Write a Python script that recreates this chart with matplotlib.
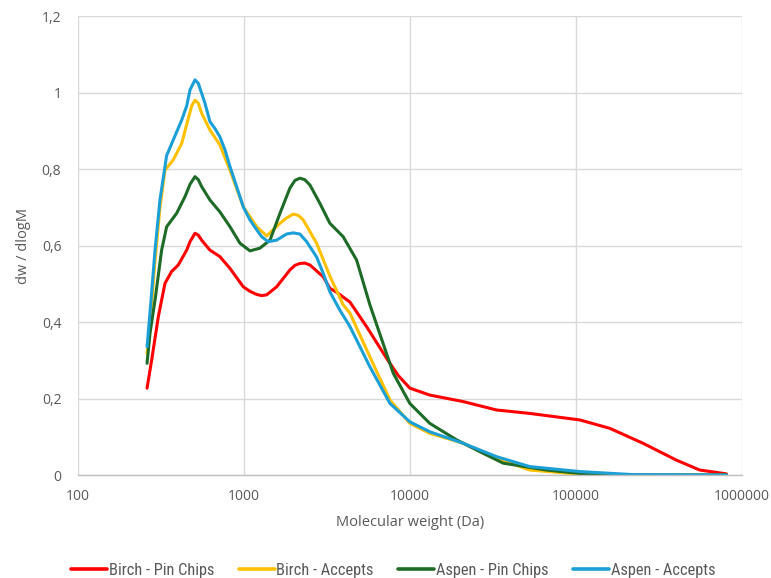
import numpy as np
import matplotlib
matplotlib.use("Agg")
import matplotlib.pyplot as plt
from matplotlib.ticker import FixedLocator, FuncFormatter, NullLocator

# Molecular weight distributions (log10 of M in Da, dw/dlogM)
birch_pin_logm = [2.416, 2.444, 2.484, 2.524, 2.564, 2.604, 2.655, 2.675, 2.705, 2.725,
                  2.745, 2.795, 2.855, 2.916, 2.996, 3.037, 3.077, 3.107, 3.137, 3.197,
                  3.277, 3.307, 3.337, 3.367, 3.398, 3.478, 3.518, 3.558, 3.639, 3.739,
                  3.860, 3.930, 4.000, 4.120, 4.321, 4.522, 4.723, 5.024, 5.205, 5.405,
                  5.606, 5.747, 5.908]
birch_pin_val = [0.227, 0.301, 0.414, 0.501, 0.532, 0.549, 0.588, 0.610, 0.632, 0.627,
                 0.614, 0.588, 0.571, 0.540, 0.492, 0.480, 0.472, 0.469, 0.471, 0.492,
                 0.536, 0.548, 0.553, 0.554, 0.549, 0.518, 0.488, 0.478, 0.452, 0.388,
                 0.305, 0.260, 0.227, 0.209, 0.192, 0.170, 0.161, 0.144, 0.122, 0.083,
                 0.039, 0.013, 0.003]

birch_acc_logm = [2.416, 2.444, 2.464, 2.494, 2.524, 2.574, 2.625, 2.665, 2.685, 2.705,
                  2.725, 2.745, 2.795, 2.855, 2.916, 2.996, 3.077, 3.137, 3.217, 3.257,
                  3.297, 3.327, 3.357, 3.438, 3.518, 3.598, 3.639, 3.759, 3.880, 4.000,
                  4.120, 4.321, 4.522, 4.723, 5.024, 5.343, 5.908]
birch_acc_val = [0.318, 0.450, 0.560, 0.700, 0.797, 0.824, 0.867, 0.933, 0.965, 0.980,
                 0.972, 0.946, 0.902, 0.863, 0.797, 0.701, 0.649, 0.625, 0.658, 0.672,
                 0.682, 0.679, 0.667, 0.606, 0.520, 0.445, 0.423, 0.309, 0.196, 0.135,
                 0.109, 0.083, 0.044, 0.013, 0.002, 0.000, 0.000]

aspen_pin_logm = [2.416, 2.434, 2.464, 2.504, 2.534, 2.594, 2.645, 2.675, 2.705, 2.725,
                  2.745, 2.795, 2.855, 2.916, 2.976, 3.036, 3.096, 3.157, 3.217, 3.277,
                  3.307, 3.337, 3.367, 3.398, 3.458, 3.518, 3.598, 3.679, 3.759, 3.900,
                  4.000, 4.120, 4.281, 4.422, 4.562, 4.823, 5.024, 5.343, 5.908]
aspen_pin_val = [0.292, 0.371, 0.457, 0.588, 0.649, 0.684, 0.728, 0.760, 0.780, 0.772,
                 0.754, 0.719, 0.688, 0.649, 0.606, 0.586, 0.593, 0.614, 0.684, 0.750,
                 0.770, 0.776, 0.772, 0.758, 0.710, 0.658, 0.623, 0.562, 0.445, 0.266,
                 0.187, 0.135, 0.092, 0.061, 0.031, 0.013, 0.004, 0.000, 0.000]

aspen_acc_logm = [2.416, 2.440, 2.464, 2.494, 2.534, 2.574, 2.625, 2.655, 2.675, 2.705,
                  2.725, 2.745, 2.765, 2.795, 2.825, 2.855, 2.886, 2.916, 2.956, 2.996,
                  3.036, 3.077, 3.107, 3.146, 3.197, 3.257, 3.297, 3.337, 3.378, 3.438,
                  3.478, 3.518, 3.578, 3.639, 3.759, 3.880, 4.000, 4.120, 4.321, 4.522,
                  4.723, 5.024, 5.343, 5.908]
aspen_acc_val = [0.335, 0.457, 0.588, 0.720, 0.835, 0.876, 0.928, 0.965, 1.007, 1.033,
                 1.024, 0.998, 0.972, 0.924, 0.906, 0.884, 0.850, 0.806, 0.754, 0.701,
                 0.667, 0.641, 0.623, 0.610, 0.614, 0.630, 0.633, 0.630, 0.610, 0.570,
                 0.527, 0.479, 0.431, 0.388, 0.283, 0.187, 0.139, 0.113, 0.083, 0.048,
                 0.022, 0.009, 0.001, 0.000]

series_names = ["Birch - Pin Chips", "Birch - Accepts", "Aspen - Pin Chips", "Aspen - Accepts"]
series_colors = ["#FF0000", "#FFC000", "#1D6B27", "#1A9FD7"]

x_ticks = [100, 1000, 10000, 100000, 1000000]
y_ticks = [0, 0.2, 0.4, 0.6, 0.8, 1.0, 1.2]

text_color = "#595959"
grid_color = "#D9D9D9"
tick_font = ["Open Sans", "DejaVu Sans"]
legend_font = ["Roboto Condensed", "Liberation Sans Narrow", "Roboto", "DejaVu Sans"]

fig = plt.figure(figsize=(7.71, 5.78), dpi=100)
ax = fig.add_axes([0.1012, 0.1782, 0.962 - 0.1012, 0.9723 - 0.1782])

data = [
    (birch_pin_logm, birch_pin_val),
    (birch_acc_logm, birch_acc_val),
    (aspen_pin_logm, aspen_pin_val),
    (aspen_acc_logm, aspen_acc_val),
]
for (lm, v), name, col in zip(data, series_names, series_colors):
    ax.plot(10 ** np.array(lm), v, color=col, lw=2.2, label=name,
            solid_joinstyle="round", solid_capstyle="round")

ax.set_xscale("log")
ax.set_xlim(100, 1000000)
ax.set_ylim(0, 1.2)
ax.xaxis.set_major_locator(FixedLocator(x_ticks))
ax.xaxis.set_minor_locator(NullLocator())
ax.xaxis.set_major_formatter(FuncFormatter(lambda v, p: f"{int(round(v))}"))
ax.yaxis.set_major_locator(FixedLocator(y_ticks))
ax.yaxis.set_major_formatter(FuncFormatter(lambda v, p: f"{v:g}".replace(".", ",")))

ax.grid(True, color=grid_color, lw=1.0)
ax.set_axisbelow(True)
for side in ["top", "right", "left"]:
    ax.spines[side].set_visible(False)
ax.spines["bottom"].set_color("#BFBFBF")
ax.spines["bottom"].set_linewidth(1.0)
ax.tick_params(axis="both", length=0, colors=text_color, labelsize=10)
ax.tick_params(axis="y", pad=12)
ax.tick_params(axis="x", pad=10)
for lab in ax.get_xticklabels() + ax.get_yticklabels():
    lab.set_fontfamily(tick_font)

ax.set_xlabel("Molecular weight (Da)", color=text_color, fontsize=10.5,
              family=tick_font, labelpad=8)
ax.set_ylabel("dw / dlogM", color=text_color, fontsize=10.5,
              family=tick_font, labelpad=8)

leg = fig.legend(loc="lower center", bbox_to_anchor=(0.51, -0.025), ncol=4,
                 frameon=False, handlelength=2.2, columnspacing=1.5,
                 handletextpad=0.1, prop={"family": legend_font, "size": 11.8})
for t in leg.get_texts():
    t.set_color(text_color)
for h in leg.get_lines():
    h.set_linewidth(2.6)

fig.savefig("out.png", dpi=100)
